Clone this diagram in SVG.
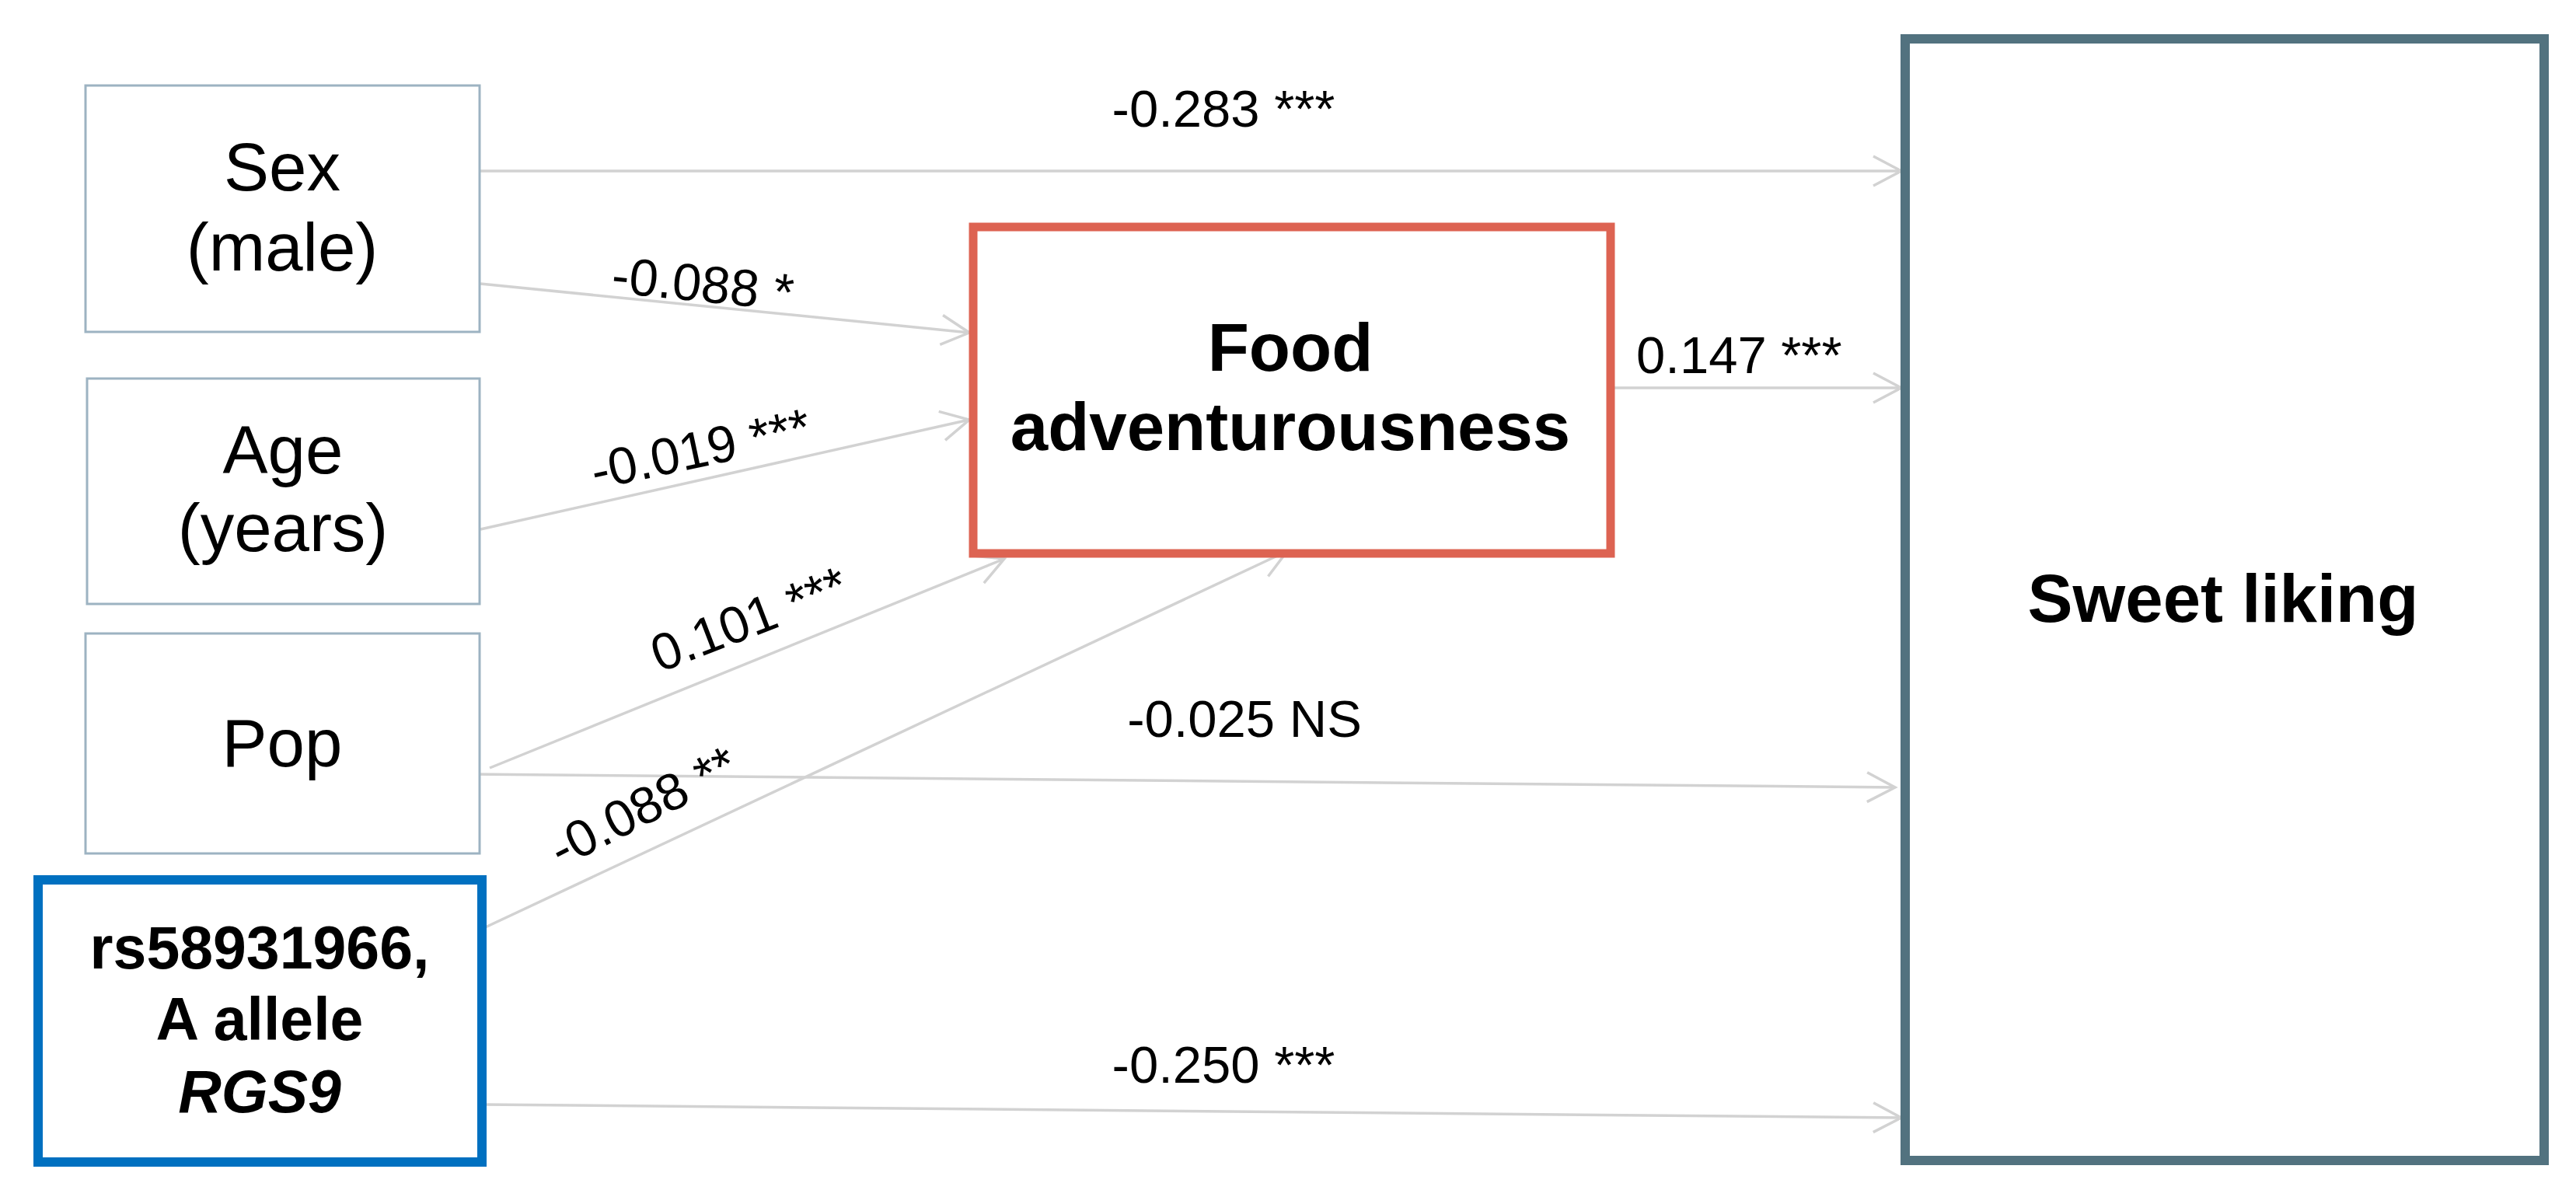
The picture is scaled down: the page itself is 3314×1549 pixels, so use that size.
<svg xmlns="http://www.w3.org/2000/svg" width="3314" height="1549" viewBox="0 0 3314 1549">
<style>
  .thin { fill: #ffffff; stroke: #9DB3C2; stroke-width: 3; }
  .lbl { font-family: "Liberation Sans", Arial, sans-serif; font-size: 67px; fill: #000; }
  .node { font-family: "Liberation Sans", Arial, sans-serif; font-size: 87px; fill: #000; text-anchor: middle; }
  .bold { font-weight: bold; }
  .conn { fill: none; stroke: #D2D2D2; stroke-width: 3.5; marker-end: url(#arr); }
</style>
<defs>
  <marker id="arr" markerUnits="userSpaceOnUse" markerWidth="50" markerHeight="50" viewBox="-45 -25 50 50" refX="0" refY="0" orient="auto">
    <path d="M -36 -19 L 0 0 L -36 19" fill="none" stroke="#D2D2D2" stroke-width="3.5"/>
  </marker>
</defs>
<rect width="3314" height="1549" fill="#ffffff"/>

<g id="connectors">
  <line class="conn" x1="616" y1="220" x2="2446" y2="220"/>
  <line class="conn" x1="618" y1="365" x2="1247" y2="428"/>
  <line class="conn" x1="618" y1="681" x2="1247" y2="540"/>
  <line class="conn" x1="630" y1="988" x2="1292" y2="719"/>
  <line class="conn" x1="618" y1="1196" x2="1656" y2="709"/>
  <line class="conn" x1="2077" y1="499" x2="2446" y2="499"/>
  <line class="conn" x1="606" y1="996" x2="2438" y2="1013"/>
  <line class="conn" x1="620" y1="1421" x2="2446" y2="1438"/>
</g>

<g id="labels">
  <text class="lbl" x="1574" y="163" text-anchor="middle">-0.283 ***</text>
  <text class="lbl" x="902" y="388" text-anchor="middle" transform="rotate(5.8 902 388)">-0.088 *</text>
  <text class="lbl" x="906" y="600" text-anchor="middle" transform="rotate(-12 906 600)">-0.019 ***</text>
  <text class="lbl" x="972" y="818" text-anchor="middle" transform="rotate(-21 972 818)">0.101 ***</text>
  <text class="lbl" x="838" y="1058" text-anchor="middle" transform="rotate(-27 838 1058)">-0.088 **</text>
  <text class="lbl" x="2105" y="480">0.147 ***</text>
  <text class="lbl" x="1601" y="948" text-anchor="middle">-0.025 NS</text>
  <text class="lbl" x="1574" y="1393" text-anchor="middle">-0.250 ***</text>
</g>

<g id="node-sex">
  <rect class="thin" x="110" y="110" width="507" height="317"/>
  <text class="node" x="363" y="245">Sex</text>
  <text class="node" x="363" y="348">(male)</text>
</g>

<g id="node-age">
  <rect class="thin" x="112" y="487" width="505" height="290"/>
  <text class="node" x="364" y="609">Age</text>
  <text class="node" x="364" y="709">(years)</text>
</g>

<g id="node-pop">
  <rect class="thin" x="110" y="815" width="507" height="283"/>
  <text class="node" x="363" y="986">Pop</text>
</g>

<g id="node-rs">
  <rect x="49" y="1132" width="571" height="363" fill="#ffffff" stroke="#0070C0" stroke-width="12"/>
  <text class="node bold" x="334" y="1246" style="font-size:77px">rs58931966,</text>
  <text class="node bold" x="334" y="1338" style="font-size:77px">A allele</text>
  <text class="node bold" x="334" y="1431" style="font-size:77px; font-style:italic">RGS9</text>
</g>

<g id="node-food">
  <rect x="1252" y="292" width="820" height="420" fill="#ffffff" stroke="#DD6352" stroke-width="11"/>
  <text class="node bold" x="1660" y="477">Food</text>
  <text class="node bold" x="1660" y="579">adventurousness</text>
</g>

<g id="node-sweet">
  <rect x="2451" y="50" width="822" height="1443" fill="#ffffff" stroke="#52727F" stroke-width="12"/>
  <text class="node bold" x="2860" y="800">Sweet liking</text>
</g>
</svg>
